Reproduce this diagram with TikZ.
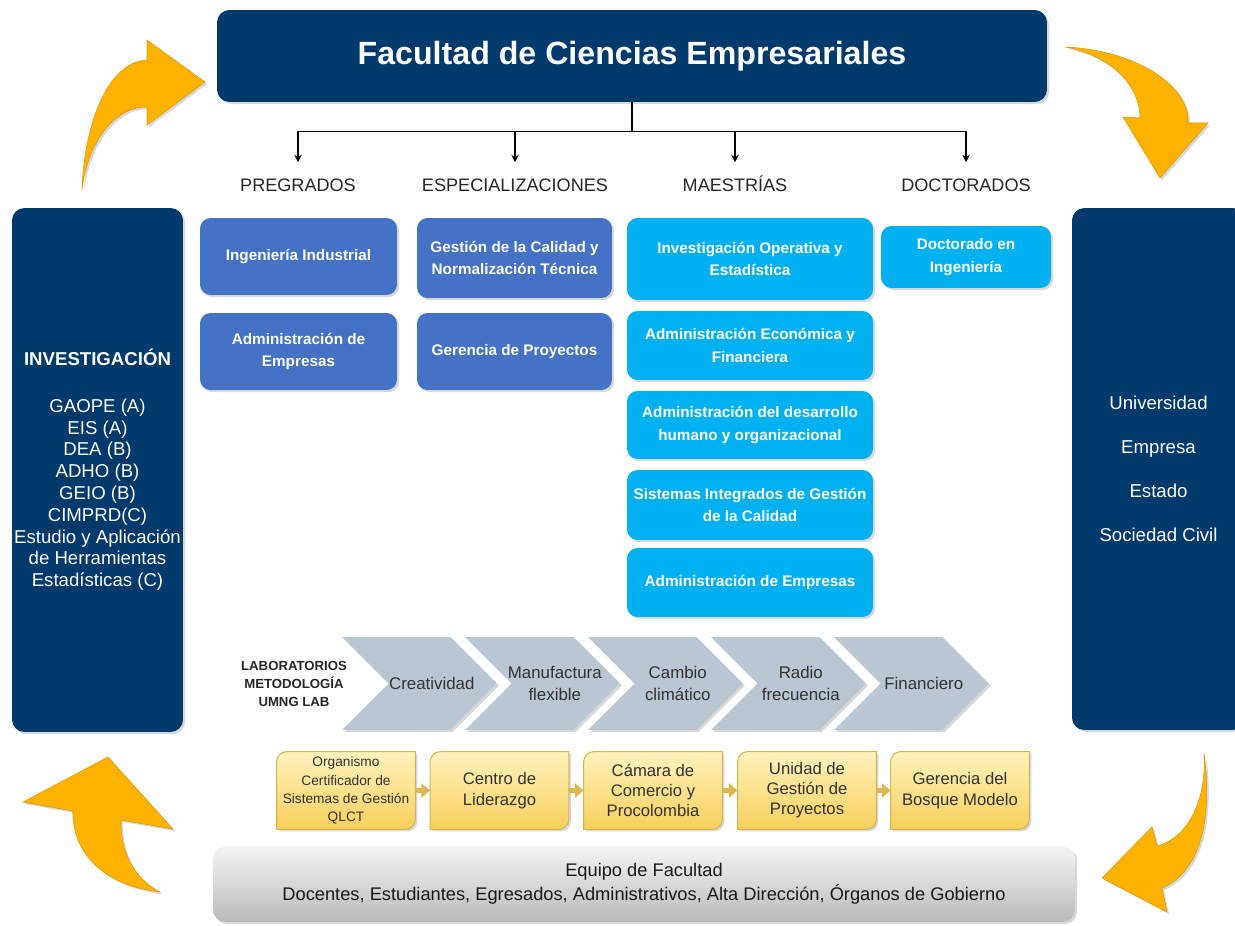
\documentclass[tikz,border=0pt]{standalone}
\usepackage{fontspec}
\setmainfont{Liberation Sans}
\usepackage{tikz}
\usetikzlibrary{positioning,calc}
\usetikzlibrary{shapes.symbols, arrows, arrows.meta}
\usetikzlibrary{backgrounds, shadows}
\definecolor{facnavy}{RGB}{0,57,108}
\definecolor{progblue}{RGB}{68,114,196}
\definecolor{mastblue}{RGB}{0,176,240}
\definecolor{chevgray}{RGB}{186,198,210}
\definecolor{yeltop}{RGB}{255,244,190}
\definecolor{yelbot}{RGB}{248,206,92}
\definecolor{yelline}{RGB}{214,180,80}
\definecolor{orangearr}{RGB}{255,178,0}
\tikzstyle{softshadow} = [drop shadow={shadow xshift=1.2pt, shadow yshift=-1.2pt, opacity=0.22, fill=black!70}]
\tikzstyle{navybox} = [rectangle, rounded corners=7pt, fill=facnavy, text=white, align=center, softshadow]
\tikzstyle{progbox} = [rectangle, rounded corners=6pt, fill=progblue, text=white, align=center, inner sep=2pt, font=\fontsize{8.7}{13}\selectfont\bfseries, softshadow]
\tikzstyle{mastbox} = [progbox, fill=mastblue]
\tikzstyle{cat} = [inner sep=0pt, text height=7.5pt, text depth=0pt, font=\fontsize{10.3}{12}\selectfont, text=black!85]
\tikzstyle{tree} = [line width=0.9pt, >=stealth]
\tikzstyle{chev} = [signal, signal to=east, signal from=west, signal pointer angle=90, fill=chevgray, minimum width=3.1cm, minimum height=1.86cm, inner sep=0pt, softshadow]
\tikzstyle{chevtxt} = [align=center, text=black!80, font=\fontsize{9.6}{12.5}\selectfont]
\tikzstyle{yelbox} = [minimum width=2.76cm, minimum height=1.54cm, inner sep=1pt, align=center, text=black!80, font=\fontsize{9.5}{11.6}\selectfont]
\tikzstyle{yelshape} = [top color=yeltop, bottom color=yelbot, draw=yelline, line width=0.6pt, softshadow]
\tikzstyle{yelarrow} = [-{Triangle[length=5pt, width=8pt]}, line width=3pt, draw=yelline!85!yelbot]
\tikzstyle{bigarrow} = [fill=orangearr, draw=orangearr!85!black, line width=0.3pt, softshadow]

\begin{document}
\begin{tikzpicture}[x=0.02cm, y=-0.02cm]
\useasboundingbox (0,0) rectangle (1235,926);

% faculty and programs
\node[navybox, minimum width=16.6cm, minimum height=1.84cm, font=\fontsize{18.3}{21}\selectfont\bfseries] (title) at (632,56) {Facultad de Ciencias Empresariales};

\node[cat] (pre) at (298,185) {PREGRADOS};
\node[cat] (esp) at (515,185) {ESPECIALIZACIONES};
\node[cat] (mae) at (735,185) {MAESTRÍAS};
\node[cat] (doc) at (966,185) {DOCTORADOS};

\draw[tree] (title.south) -- ++(0,29) coordinate (hub);
\foreach \c in {pre,esp,mae,doc}
  \draw[tree,->,shorten >=9pt] (hub) -| (\c.north);

\node[progbox, minimum width=3.94cm, minimum height=1.54cm] (p1) at (298.5,256.5) {Ingeniería Industrial};
\node[progbox, minimum width=3.94cm, minimum height=1.54cm] (p2) at (298.5,351.5) {Administración de\\Empresas};
\node[progbox, minimum width=3.9cm, minimum height=1.6cm] (e1) at (514.5,258) {Gestión de la Calidad y\\Normalización Técnica};
\node[progbox, minimum width=3.9cm, minimum height=1.54cm] (e2) at (514.5,351.5) {Gerencia de Proyectos};

\node[mastbox, minimum width=4.92cm, minimum height=1.64cm] (m1) at (750,259) {Investigación Operativa y\\Estadística};
\node[mastbox, minimum width=4.92cm, minimum height=1.38cm] (m2) at (750,345.5) {Administración Económica y\\Financiera};
\node[mastbox, minimum width=4.92cm, minimum height=1.36cm] (m3) at (750,425) {Administración del desarrollo\\humano y organizacional};
\node[mastbox, minimum width=4.92cm, minimum height=1.4cm] (m4) at (750,505) {Sistemas Integrados de Gestión\\de la Calidad};
\node[mastbox, minimum width=4.92cm, minimum height=1.38cm] (m5) at (750,582.5) {Administración de Empresas};
\node[mastbox, minimum width=3.4cm, minimum height=1.24cm] (d1) at (966,257) {Doctorado en\\Ingeniería};

% side panels
\node[navybox, inner sep=1pt, minimum width=3.42cm, minimum height=10.48cm, font=\fontsize{10.6}{12.4}\selectfont] (inv) at (97.5,470)
  {{\bfseries INVESTIGACIÓN}\\[14pt]GAOPE (A)\\EIS (A)\\DEA (B)\\ADHO (B)\\GEIO (B)\\CIMPRD(C)\\Estudio y Aplicación\\de Herramientas\\Estadísticas (C)};
\node[navybox, inner sep=1pt, minimum width=3.46cm, minimum height=10.44cm, font=\fontsize{10.6}{25}\selectfont] (ent) at (1158.5,469)
  {Universidad\\Empresa\\Estado\\Sociedad Civil};

% laboratorios
\node[align=center, text=black!85, font=\fontsize{7.5}{10}\selectfont\bfseries] (lab) at (294,684) {LABORATORIOS\\METODOLOGÍA\\UMNG LAB};
\foreach \i/\x/\txt in {1/419.5/Creatividad, 2/542.5/{Manufactura\\flexible}, 3/665.5/{Cambio\\climático}, 4/788.5/{Radio\\frecuencia}, 5/911.5/Financiero}{
  \node[chev] (ch\i) at (\x,683.5) {};
  \node[chevtxt] (cht\i) at ([xshift=7pt]ch\i.center) {\txt};
}

% aliados
\node[yelbox, font=\fontsize{7.8}{10.4}\selectfont] (b1) at (346,790.5) {Organismo\\Certificador de\\Sistemas de Gestión\\QLCT};
\node[yelbox] (b2) at (499.5,790.5) {Centro de\\Liderazgo};
\node[yelbox, font=\fontsize{9.5}{11.3}\selectfont] (b3) at (653,790.5) {Cámara de\\Comercio y\\Procolombia};
\node[yelbox, font=\fontsize{9.5}{11.3}\selectfont] (b4) at (807,790.5) {Unidad de\\Gestión de\\Proyectos};
\node[yelbox] (b5) at (960,790.5) {Gerencia del\\Bosque Modelo};
\begin{scope}[on background layer]
\foreach \b in {b1,b2,b3,b4,b5}
  \draw[yelshape] (\b.south west) -- ($(\b.north west)+(0,-0.2cm)$) arc[start angle=180, end angle=90, radius=0.2cm]
    -- (\b.north east) -- ($(\b.south east)+(0,0.2cm)$) arc[start angle=0, end angle=-90, radius=0.2cm] -- cycle;
\end{scope}
\draw[yelarrow] (b1) -- (b2);
\draw[yelarrow] (b2) -- (b3);
\draw[yelarrow] (b3) -- (b4);
\draw[yelarrow] (b4) -- (b5);

% equipo
\node[rectangle, rounded corners=7pt, top color=black!4, bottom color=black!27, minimum width=17.24cm, minimum height=1.52cm,
  align=center, text=black!90, font=\fontsize{10.4}{13.6}\selectfont, softshadow] (equipo) at (644,884)
  {Equipo de Facultad\\Docentes, Estudiantes, Egresados, Administrativos, Alta Dirección, Órganos de Gobierno};

% cycle arrows
\path[bigarrow] (82,190) .. controls (84,128) and (106,62) .. (147,60) -- (147,40) -- (205,82) -- (147,125) -- (147,107)
  .. controls (118,106) and (88,138) .. cycle;
\path[bigarrow] (1065,47) .. controls (1135,50) and (1190,85) .. (1188,123) -- (1208,123) -- (1160,178) -- (1123,117)
  -- (1140,118) .. controls (1140,85) and (1110,55) .. cycle;
\path[bigarrow] (1204,753) .. controls (1213,820) and (1200,872) .. (1162,888) -- (1167,912) -- (1102,878) -- (1152,827)
  -- (1157,846) .. controls (1188,838) and (1207,800) .. cycle;
\path[bigarrow] (160,892) .. controls (133,878) and (120,850) .. (121,820) -- (173,829) -- (108,757) -- (23,802)
  -- (73,811) .. controls (72,850) and (100,885) .. cycle;
\end{tikzpicture}
\end{document}
